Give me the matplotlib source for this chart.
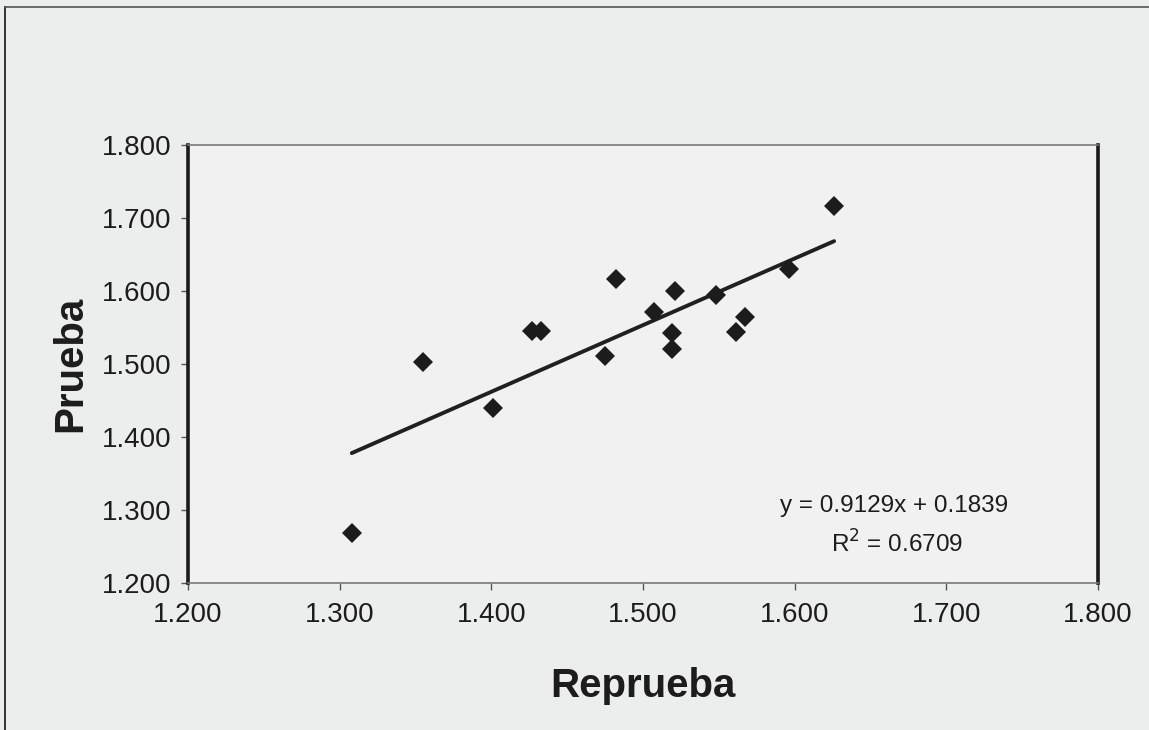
import numpy as np
import matplotlib.pyplot as plt
from matplotlib.lines import Line2D

plt.rcParams["font.family"] = ["Liberation Sans", "DejaVu Sans"]

# Datos (Reprueba vs Prueba)
reprueba = [1.308, 1.355, 1.401, 1.427, 1.433, 1.475, 1.482, 1.507,
            1.519, 1.519, 1.521, 1.548, 1.561, 1.567, 1.596, 1.626]
prueba = [1.268, 1.503, 1.440, 1.545, 1.545, 1.511, 1.616, 1.571,
          1.543, 1.520, 1.600, 1.595, 1.544, 1.564, 1.630, 1.717]

slope = 0.9129
intercept = 0.1839
r2 = 0.6709

ticks = [1.2, 1.3, 1.4, 1.5, 1.6, 1.7, 1.8]
tick_labels = ["1.200", "1.300", "1.400", "1.500", "1.600", "1.700", "1.800"]

bg = "#eceeed"
ink = "#1c1c1c"

fig = plt.figure(figsize=(11.49, 7.30), dpi=100, facecolor=bg)
ax = fig.add_axes([188 / 1149, 147 / 730, 910 / 1149, 438 / 730])
ax.set_facecolor("#f0f1f0")

x = np.array(reprueba)
y = np.array(prueba)

# linea de tendencia sobre el rango de los datos
xl = np.array([x.min(), x.max()])
ax.plot(xl, slope * xl + intercept, color="#202020", lw=2.8,
        solid_capstyle="round", zorder=2)
ax.plot(x, y, linestyle="none", marker="D", markersize=10,
        color=ink, markeredgewidth=0, zorder=3)

ax.set_xlim(1.2, 1.8)
ax.set_ylim(1.2, 1.8)
ax.set_xticks(ticks)
ax.set_xticklabels(tick_labels)
ax.set_yticks(ticks)
ax.set_yticklabels(tick_labels)
ax.tick_params(axis="both", direction="out", length=5, width=1,
               color="#555555", labelsize=20, labelcolor=ink)
ax.tick_params(axis="x", pad=9)
ax.tick_params(axis="y", pad=7)

for side in ("left", "right"):
    ax.spines[side].set_color("#1a1a1a")
    ax.spines[side].set_linewidth(2.6)
for side in ("top", "bottom"):
    ax.spines[side].set_color("#7a7a7a")
    ax.spines[side].set_linewidth(1.2)

ax.set_xlabel("Reprueba", fontsize=29, fontweight="bold", color=ink,
              labelpad=28)
ax.set_ylabel("Prueba", fontsize=29, fontweight="bold", color=ink,
              labelpad=9)

ax.text(0.776, 0.175, f"y = {slope:.4f}x + {intercept:.4f}",
        transform=ax.transAxes, ha="center", va="center",
        fontsize=17.5, color=ink)
ax.text(0.779, 0.09, f"R$^2$ = {r2:.4f}", transform=ax.transAxes,
        ha="center", va="center", fontsize=17.5, color=ink)

# marco exterior del grafico (solo visible arriba y a la izquierda)
fig.add_artist(Line2D([5 / 1149, 5 / 1149], [0, 1 - 7 / 730],
                      transform=fig.transFigure, color="#333333", lw=1.4))
fig.add_artist(Line2D([5 / 1149, 1], [1 - 7 / 730, 1 - 7 / 730],
                      transform=fig.transFigure, color="#555555", lw=1.2))

fig.savefig("out.png", dpi=100, facecolor=bg)
